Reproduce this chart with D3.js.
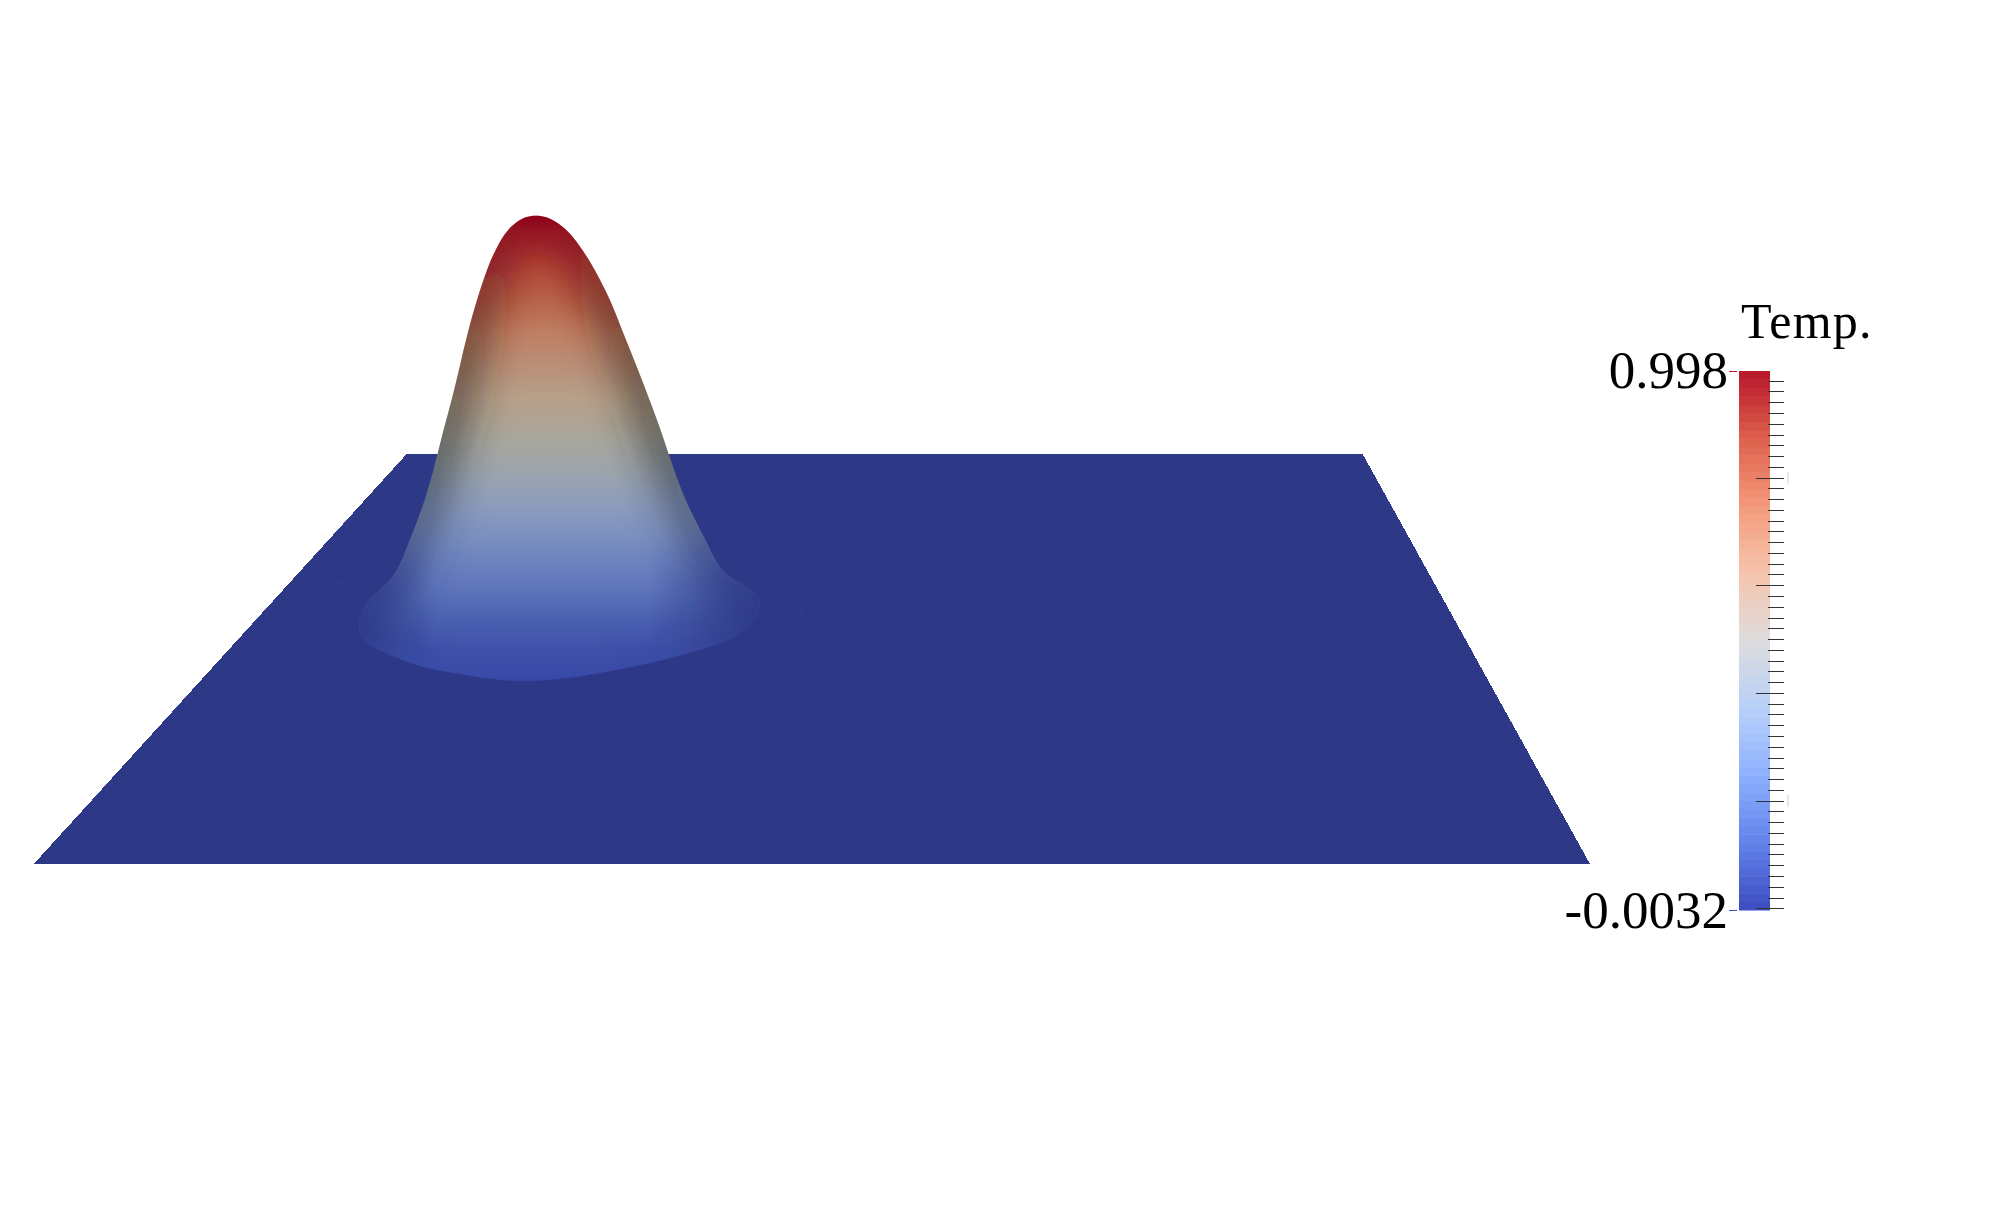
<!DOCTYPE html>
<html>
<head>
<meta charset="utf-8">
<script src="https://cdn.jsdelivr.net/npm/d3@7"></script>
<style>
  html, body { margin: 0; background: #fff; }
  svg { display: block; }
  text { font-family: "Liberation Serif", serif; fill: #000; }
</style>
</head>
<body>
<div id="chart"></div>
<script>
// plate corners, in plate units (front edge runs 0..100 along u)
const plateU = [0.05, 100, 85.4, 24.0];
const plateV = [0, 0, 100, 100];

// bump silhouette, bottom to apex
const rowV = [44.4, 44.9, 46.6, 48.0, 50.5, 52.9, 55.4, 58.8, 62.7, 66.1, 68.5, 71.0, 74.9, 79.0, 87.1, 95.4, 105.1, 113.2, 121.2, 129.5, 137.6, 145.6, 149.8, 153.9, 156.2, 157.9];
const leftU = [31.3, 29.6, 27.0, 24.9, 23.2, 21.8, 21.0, 20.9, 21.2, 22.0, 22.8, 23.3, 23.8, 24.2, 25.05, 25.7, 26.3, 26.9, 27.4, 27.9, 28.5, 29.2, 29.7, 30.3, 30.9, 31.6];
const rightU = [31.3, 33.8, 36.4, 38.5, 41.3, 43.5, 45.2, 46.2, 46.8, 46.5, 45.4, 44.3, 43.7, 43.2, 42.07, 41.2, 40.4, 39.6, 38.8, 37.9, 37.1, 36.0, 35.3, 34.5, 33.8, 33.0];
const apex = [32.3, 158.2];

// colour down the middle of the bump
const shadeV = [158, 153.9, 145.6, 137.6, 129.5, 121.2, 113.2, 103.4, 95.4, 87.1, 79, 74.9, 66.8, 59.5, 52.2, 46, 44.4];
const shadeColor = ["#a0041f", "#ad2c2c", "#b54a3c", "#b9634a", "#bf7f63", "#ba9078", "#b6a08a", "#a8a69c", "#9ca4ad", "#8c9cbd", "#7a8fc0", "#6f85c0", "#5d74bb", "#4a60b0", "#3f50aa", "#394aa8", "#36449f"];
// colour of the dark rim along the outline
const rimV = [158, 125, 100, 80, 66, 55, 49];
const rimColor = ["#820012", "#38261a", "#262c30", "#2a3662", "#2d3987", "#2d3987", "#2d3987"];
const rimOpacity = [1, 1, 1, 1, 1, 0.5, 0];

// faint ripples on the plate around the bump, [u, v] pairs
const ripples = [
  [[23, 43.6], [25.5, 43.2], [28, 43.4]],
  [[34, 43.4], [37, 43.9], [40, 44.8]],
  [[47.5, 67], [49.2, 64], [49.4, 60]],
  [[17, 66], [18.5, 68], [20, 69]]
];

// colour bar
const barMin = -0.0032;
const barMax = 0.998;
const barStops = ["#3b4cc0", "#6282ea", "#8db0fe", "#b8d0f9", "#dddddd", "#f5c4ad", "#f49a7b", "#de604d", "#b8162b"];
const barSteps = 64;
const majorTicks = [0.8, 0.6, 0.4, 0.2, 0];
const minorTicks = d3.range(1, 50).map(d => d * 0.02).filter(d => !majorTicks.some(m => Math.abs(m - d) < 1e-6));
// pale specks to the right of some major ticks
const specks = [0.8, 0.2];

const plateColor = "#2d3987";
const width = 2000, height = 1218;
const x = d3.scaleLinear([0, 100], [33, 1590]);
const y = d3.scaleLinear([0, 100], [864, 454]);
const barY = d3.scaleLinear([barMin, barMax], [910, 371]);
const barColor = d3.scaleLinear(d3.range(barStops.length).map(i => i / (barStops.length - 1)), barStops);

const svg = d3.select("#chart").append("svg")
  .attr("width", width)
  .attr("height", height);

const defs = svg.append("defs");

function vGradient(id, vs, colors, opacity) {
  const g = defs.append("linearGradient")
    .attr("id", id)
    .attr("gradientUnits", "userSpaceOnUse")
    .attr("x1", 0).attr("x2", 0)
    .attr("y1", y(vs[0])).attr("y2", y(vs[vs.length - 1]));
  const t = d3.scaleLinear([vs[0], vs[vs.length - 1]], [0, 1]);
  g.selectAll("stop").data(vs).join("stop")
    .attr("offset", d => t(d))
    .attr("stop-color", (d, i) => colors[i])
    .attr("stop-opacity", (d, i) => opacity ? opacity[i] : 1);
}
vGradient("bump-fill", shadeV, shadeColor);
vGradient("bump-rim", rimV, rimColor, rimOpacity);
vGradient("skirt-fade", [82, 68, 55, 46], ["#000", "#fff", "#fff", "#000"]);

// the sides of the skirt melt into the plate
const skirtSide = defs.append("linearGradient")
  .attr("id", "skirt-side")
  .attr("gradientUnits", "userSpaceOnUse")
  .attr("x1", x(20.5)).attr("x2", x(47)).attr("y1", 0).attr("y2", 0);
[[0, 0.95], [0.2, 0], [0.72, 0], [1, 0.95]].forEach(([o, a]) => {
  skirtSide.append("stop").attr("offset", o).attr("stop-color", plateColor).attr("stop-opacity", a);
});
defs.append("mask").attr("id", "skirt-mask")
  .attr("maskUnits", "userSpaceOnUse")
  .attr("x", 0).attr("y", 0).attr("width", width).attr("height", height)
  .append("rect")
  .attr("width", width).attr("height", height)
  .attr("fill", "url(#skirt-fade)");

function blur(id, sd) {
  defs.append("filter")
    .attr("id", id)
    .attr("filterUnits", "userSpaceOnUse")
    .attr("x", 0).attr("y", 0).attr("width", width).attr("height", height)
    .append("feGaussianBlur").attr("stdDeviation", sd);
}
blur("rim-blur", 22);
blur("ripple-blur", 2);

// plate
const line = d3.line().x(d => x(d[0])).y(d => y(d[1]));
svg.append("path")
  .attr("d", line.curve(d3.curveLinearClosed)(plateU.map((u, i) => [u, plateV[i]])))
  .attr("fill", plateColor)
  .attr("shape-rendering", "crispEdges");

svg.append("g").selectAll("path").data(ripples).join("path")
  .attr("d", line.curve(d3.curveBasis))
  .attr("fill", "none")
  .attr("stroke", "#35439c")
  .attr("stroke-opacity", 0.35)
  .attr("stroke-width", 3)
  .attr("filter", "url(#ripple-blur)");

// bump
const outline = [
  ...rowV.map((v, i) => [leftU[i], v]),
  apex,
  ...rowV.slice(1).map((v, i) => [rightU[i + 1], v]).reverse()
];
const bumpPath = line.curve(d3.curveBasisClosed)(outline);

defs.append("clipPath").attr("id", "bump-clip").append("path").attr("d", bumpPath);

svg.append("path").attr("d", bumpPath).attr("fill", "url(#bump-fill)");
const inside = svg.append("g").attr("clip-path", "url(#bump-clip)");
inside.append("path")
  .attr("d", bumpPath)
  .attr("fill", "none")
  .attr("stroke", "url(#bump-rim)")
  .attr("stroke-width", 26)
  .attr("filter", "url(#rim-blur)");
inside.append("rect")
  .attr("x", x(20)).attr("width", x(48) - x(20))
  .attr("y", y(82)).attr("height", y(40) - y(82))
  .attr("fill", "url(#skirt-side)")
  .attr("mask", "url(#skirt-mask)");

// colour bar
const barX = 1739, barW = 31;
const steps = d3.range(barSteps);
svg.append("g").selectAll("rect").data(steps).join("rect")
  .attr("x", barX)
  .attr("width", barW)
  .attr("y", d => barY(barMin + (barMax - barMin) * (d + 1) / barSteps))
  .attr("height", (barY.range()[0] - barY.range()[1]) / barSteps + 0.5)
  .attr("fill", d => barColor((d + 0.5) / barSteps));

const minorAxis = d3.axisLeft(barY).tickValues(minorTicks).tickSize(16).tickFormat("");
const majorAxis = d3.axisLeft(barY).tickValues(majorTicks).tickSize(28).tickFormat("");
[minorAxis, majorAxis].forEach(axis => {
  const g = svg.append("g").attr("transform", "translate(1784,0)").call(axis);
  g.select(".domain").remove();
  g.selectAll("line").attr("stroke", "#333").attr("shape-rendering", "crispEdges");
});

svg.append("g").selectAll("rect").data(specks).join("rect")
  .attr("x", 1787)
  .attr("y", d => barY(d) - 6)
  .attr("width", 2)
  .attr("height", 12)
  .attr("fill", "#e8e8e8");

// end marks beside the labels
[[barMax, "#b8162b"], [barMin, "#3b4cc0"]].forEach(([v, c]) => {
  svg.append("line")
    .attr("x1", 1729).attr("x2", 1737)
    .attr("y1", Math.round(barY(v)) + 0.5).attr("y2", Math.round(barY(v)) + 0.5)
    .attr("stroke", c);
});

svg.append("text").attr("x", 1741).attr("y", 338).attr("font-size", 50).attr("letter-spacing", 1.2).text("Temp.");
svg.append("text").attr("x", 1728).attr("y", 388).attr("font-size", 53).attr("text-anchor", "end").text("0.998");
svg.append("text").attr("x", 1728).attr("y", 928).attr("font-size", 53).attr("text-anchor", "end").text("-0.0032");
</script>
</body>
</html>
